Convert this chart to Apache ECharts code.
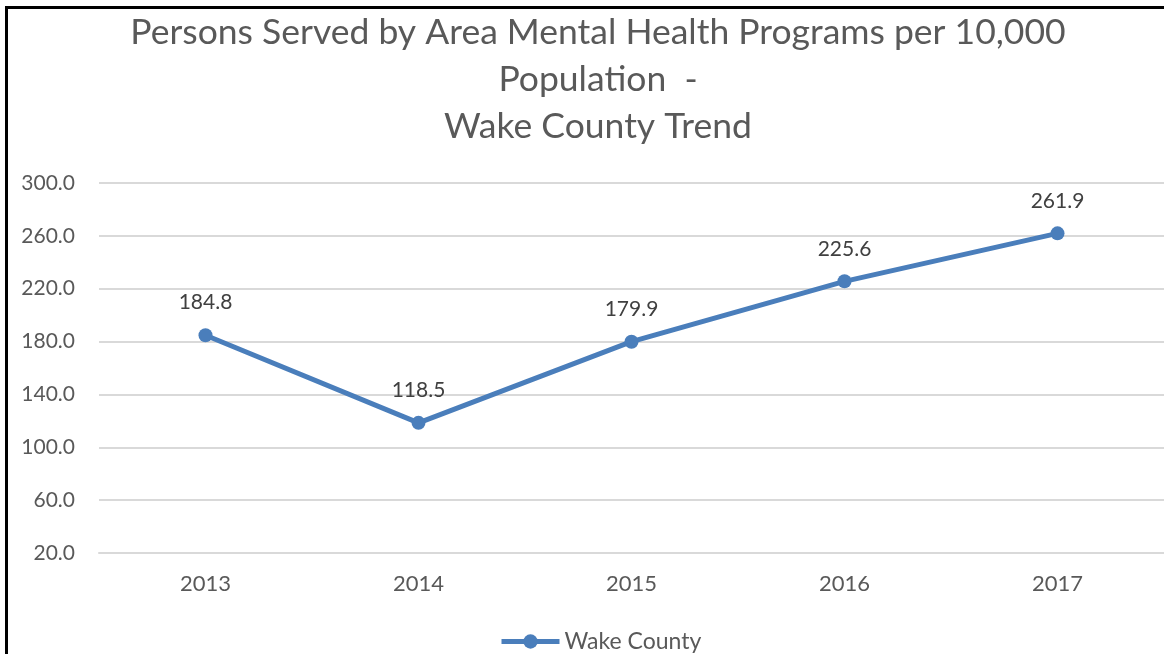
<!DOCTYPE html>
<html>
<head>
<meta charset="utf-8">
<script src="https://cdn.jsdelivr.net/npm/echarts@6/dist/echarts.min.js"></script>
<style>
  html, body { margin: 0; padding: 0; background: #fff; }
  #chart { position: absolute; left: 0; top: 0; width: 1164px; height: 654px; }
  #frame { position: absolute; left: 5px; top: 6px; right: 0; bottom: 0;
           border-left: 3px solid #000; border-top: 3px solid #000; pointer-events: none; }
</style>
</head>
<body>
<div id="chart"></div>
<div id="frame"></div>
<script>
const titleText = 'Persons Served by Area Mental Health Programs per 10,000\nPopulation  -\nWake County Trend';
const categories = ['2013', '2014', '2015', '2016', '2017'];
const seriesName = 'Wake County';
const values = [184.8, 118.5, 179.9, 225.6, 261.9];
const yTicks = [20, 60, 100, 140, 180, 220, 260, 300];

const FONT = 'Lato';
const chart = echarts.init(document.getElementById('chart'), null, { renderer: 'canvas' });
chart.setOption({
  animation: false,
  backgroundColor: '#ffffff',
  title: {
    text: titleText,
    left: 598,
    top: 5,
    textAlign: 'center',
    padding: [4, 0, 4, 0],
    textStyle: { fontFamily: FONT, fontSize: 35.5, fontWeight: 'normal', color: '#595959', lineHeight: 47 }
  },
  legend: {
    data: [seriesName],
    left: 494,
    top: 625,
    itemWidth: 58,
    itemHeight: 18,
    itemGap: 5,
    lineStyle: { width: 5 },
    textStyle: { fontFamily: FONT, fontSize: 23, color: '#595959' }
  },
  grid: { left: 99, right: 0, top: 183, bottom: 101, containLabel: false },
  xAxis: {
    type: 'category',
    data: categories,
    boundaryGap: true,
    axisLine: { show: true, lineStyle: { color: '#d9d9d9', width: 2 } },
    axisTick: { show: false },
    axisLabel: { fontFamily: FONT, fontSize: 22, color: '#595959', margin: 20 }
  },
  yAxis: {
    type: 'value',
    min: yTicks[0],
    max: yTicks[yTicks.length - 1],
    axisLine: { show: false },
    axisTick: { show: false, customValues: yTicks },
    splitLine: { show: true, lineStyle: { color: '#d9d9d9', width: 2 } },
    axisLabel: {
      customValues: yTicks,
      fontFamily: FONT, fontSize: 21, color: '#595959', margin: 24,
      formatter: v => Number(v).toFixed(1)
    }
  },
  series: [{
    name: seriesName,
    type: 'line',
    data: values,
    symbol: 'circle',
    symbolSize: 14,
    lineStyle: { color: '#4a7ebb', width: 5 },
    itemStyle: { color: '#4a7ebb' },
    label: {
      show: true,
      position: 'top',
      distance: 15,
      fontFamily: FONT, fontSize: 21, color: '#404040',
      formatter: p => p.value.toFixed(1)
    }
  }]
});
</script>
</body>
</html>
